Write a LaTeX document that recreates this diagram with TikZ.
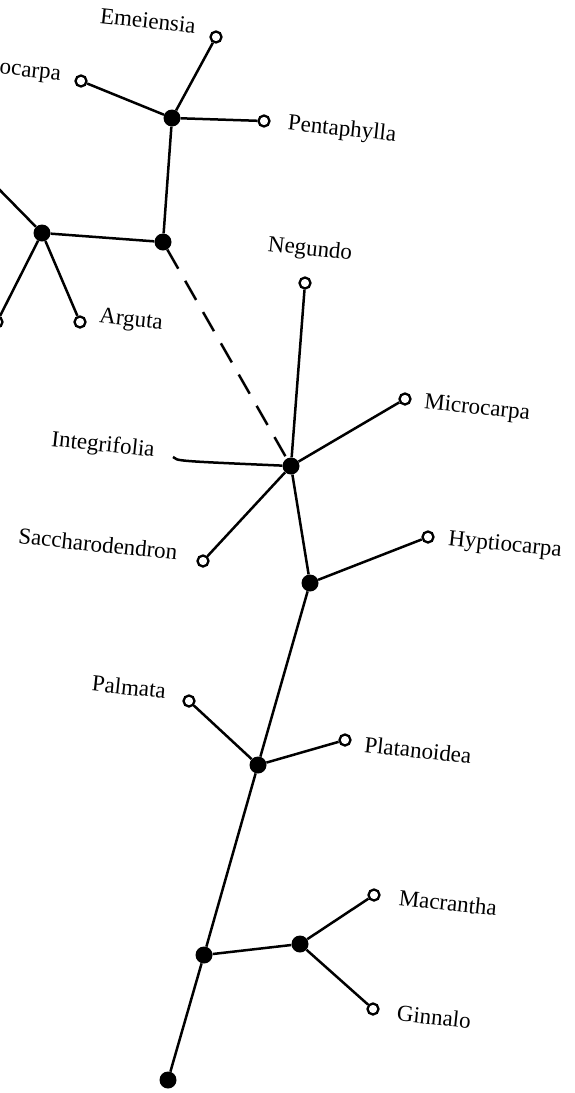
\documentclass[tikz,border=0pt]{standalone}
\usepackage{fontspec}
\setmainfont{Liberation Serif}
\usetikzlibrary{positioning}

\begin{document}
\begin{tikzpicture}[x=1pt,y=-1pt,
    fork/.style={circle,fill=black,minimum size=17pt,inner sep=0pt},
    leaf/.style={circle,draw=black,fill=white,line width=2.3pt,minimum size=11pt,inner sep=0pt},
    lbl/.style={font=\fontsize{23}{26}\selectfont,rotate=-6,inner sep=0pt},
    edge/.style={line width=2.5pt}]
    \useasboundingbox (0,0) rectangle (575,1093);
    \clip (0,0) rectangle (575,1093);

    % Forks
    \node[fork] (a) at (172,118) {};
    \node[fork] (b) at (163,242) {};
    \node[fork] (c) at (42,233) {};
    \node[fork] (d) at (291,466) {};
    \node[fork] (e) at (310,583) {};
    \node[fork] (f) at (258,765) {};
    \node[fork] (g) at (204,955) {};
    \node[fork] (h) at (300,944) {};
    \node[fork] (root) at (168,1080) {};

    % Sections
    \node[leaf] (emeiensia) at (216,37) {};
    \node[leaf] (ocarpa) at (81,81) {};
    \node[leaf] (pentaphylla) at (264,121) {};
    \node[leaf] (arguta) at (80,322) {};
    \node[leaf] (offleft) at (-3,322) {};
    \node[leaf] (negundo) at (305,283) {};
    \node[leaf] (microcarpa) at (405,399) {};
    \node[leaf] (saccharodendron) at (203,561) {};
    \node[leaf] (hyptiocarpa) at (428,537) {};
    \node[leaf] (palmata) at (189,701) {};
    \node[leaf] (platanoidea) at (345,740) {};
    \node[leaf] (macrantha) at (374,895) {};
    \node[leaf] (ginnalo) at (373,1009) {};
    \coordinate (integrifolia) at (173,457);
    \coordinate (upleft) at (-12,178);

    % Labels
    \node[lbl] (l-emeiensia) at (148,21) {Emeiensia};
    \node[lbl] (l-ocarpa) at (30,74) {ocarpa};
    \node[lbl] (l-pentaphylla) at (342,130) {Pentaphylla};
    \node[lbl] (l-negundo) at (310,250) {Negundo};
    \node[lbl] (l-arguta) at (131,321) {Arguta};
    \node[lbl] (l-integrifolia) at (103,446) {Integrifolia};
    \node[lbl] (l-saccharodendron) at (98,544) {Saccharodendron};
    \node[lbl] (l-microcarpa) at (477,409) {Microcarpa};
    \node[lbl] (l-hyptiocarpa) at (505,546) {Hyptiocarpa};
    \node[lbl] (l-palmata) at (129,687) {Palmata};
    \node[lbl] (l-platanoidea) at (418,750) {Platanoidea};
    \node[lbl] (l-macrantha) at (448,903) {Macrantha};
    \node[lbl] (l-ginnalo) at (434,1017) {Ginnalo};

    % Upper group
    \draw[edge] (a) -- (emeiensia);
    \draw[edge] (a) -- (ocarpa);
    \draw[edge] (a) -- (pentaphylla);
    \draw[edge] (a) -- (b);
    \draw[edge] (b) -- (c);
    \draw[edge] (c) -- (upleft);
    \draw[edge] (c) -- (offleft);
    \draw[edge] (c) -- (arguta);
    \draw[edge,dash pattern=on 22pt off 14pt] (b) -- (d);

    % Middle group
    \draw[edge] (d) -- (negundo);
    \draw[edge] (d) -- (microcarpa);
    \draw[edge] (integrifolia) .. controls (177,461) .. (d);
    \draw[edge] (d) -- (saccharodendron);
    \draw[edge] (d) -- (e);
    \draw[edge] (e) -- (hyptiocarpa);
    \draw[edge] (e) -- (f);

    % Lower group
    \draw[edge] (f) -- (palmata);
    \draw[edge] (f) -- (platanoidea);
    \draw[edge] (f) -- (g);
    \draw[edge] (g) -- (h);
    \draw[edge] (g) -- (root);
    \draw[edge] (h) -- (macrantha);
    \draw[edge] (h) -- (ginnalo);
\end{tikzpicture}
\end{document}
